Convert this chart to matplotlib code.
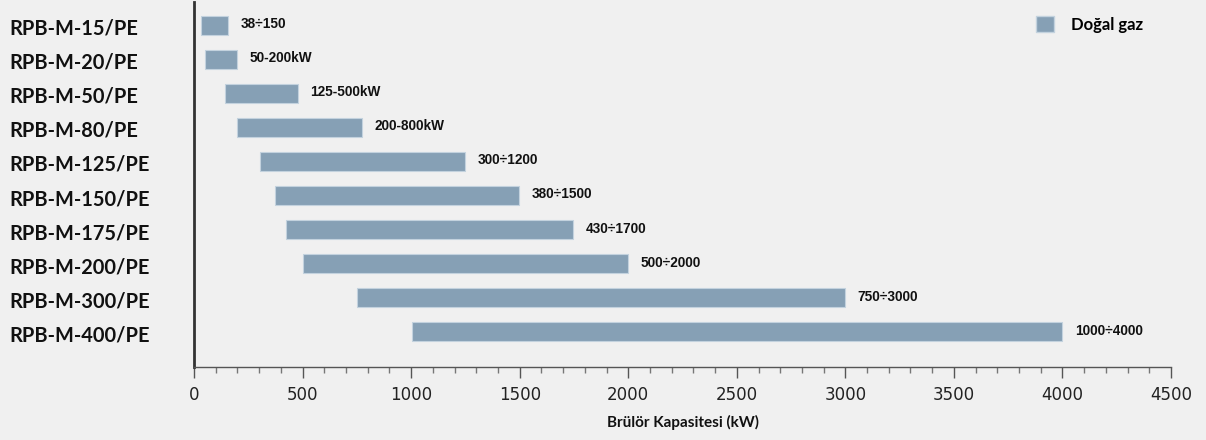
import matplotlib.pyplot as plt
from matplotlib.patches import Patch
from matplotlib.ticker import MultipleLocator
import matplotlib.transforms as mtransforms
import numpy as np

models = ["RPB-M-15/PE", "RPB-M-20/PE", "RPB-M-50/PE", "RPB-M-80/PE", "RPB-M-125/PE",
          "RPB-M-150/PE", "RPB-M-175/PE", "RPB-M-200/PE", "RPB-M-300/PE", "RPB-M-400/PE"]
# bar extents as drawn (kW)
bar_min = [30, 52, 142, 200, 303, 375, 425, 500, 752, 1002]
bar_max = [155, 200, 478, 775, 1250, 1497, 1747, 2000, 3000, 4000]
range_labels = ["38÷150", "50-200kW", "125-500kW", "200-800kW", "300÷1200",
                "380÷1500", "430÷1700", "500÷2000", "750÷3000", "1000÷4000"]

bg = "#f0f0f0"
bar_color = "#86a0b5"

fig = plt.figure(figsize=(12.06, 4.4), dpi=100, facecolor=bg)
ax = fig.add_axes([0.1609, 0.1667, 0.8101, 0.828], facecolor=bg)

ys = np.arange(len(models))
widths = np.array(bar_max) - np.array(bar_min)
ax.barh(ys, widths, left=bar_min, height=0.56, color=bar_color,
        edgecolor="#c3d2de", linewidth=0.8)

for y, x, lab in zip(ys, bar_max, range_labels):
    ax.annotate(lab, (x, y), xytext=(9, 0.8), textcoords="offset points",
                ha="left", va="center", fontsize=9.8, fontweight="bold",
                family="Liberation Sans", color="#111111")

# model names, left aligned at the figure edge, sitting a little low
name_tr = mtransforms.blended_transform_factory(fig.transFigure, ax.transData)
for y, name in zip(ys, models):
    ax.annotate(name, (0.008, y), xycoords=name_tr, xytext=(0, -2.5),
                textcoords="offset points", ha="left", va="center",
                fontsize=14.4, fontweight="bold", family="Lato", color="#111111")

ax.set_xlim(0, 4500)
ax.set_ylim(10.02, -0.67)
ax.set_yticks([])
ax.xaxis.set_major_locator(MultipleLocator(500))
ax.xaxis.set_minor_locator(MultipleLocator(100))
ax.tick_params(axis="x", which="major", length=8, width=1, color="#555555",
               labelsize=12, labelcolor="#222222", pad=6)
ax.tick_params(axis="x", which="minor", length=4, width=1, color="#777777")
for lab in ax.get_xticklabels():
    lab.set_family("DejaVu Sans")

ax.spines["top"].set_visible(False)
ax.spines["right"].set_visible(False)
ax.spines["left"].set_color("#333333")
ax.spines["left"].set_linewidth(2)
ax.spines["bottom"].set_color("#555555")
ax.spines["bottom"].set_linewidth(1)

ax.set_xlabel("Brülör Kapasitesi (kW)", fontsize=11, fontweight="bold",
              family="Lato", color="#111111", labelpad=8)

ax.legend(handles=[Patch(facecolor=bar_color, edgecolor="#c3d2de", label="Doğal gaz")],
          loc="upper left", bbox_to_anchor=(0.853, 0.985), frameon=False,
          borderpad=0, handlelength=1.1, handleheight=1.1, handletextpad=1.0,
          prop={"family": "Lato", "weight": "bold", "size": 12})

fig.savefig("out.png", dpi=100, facecolor=bg)
